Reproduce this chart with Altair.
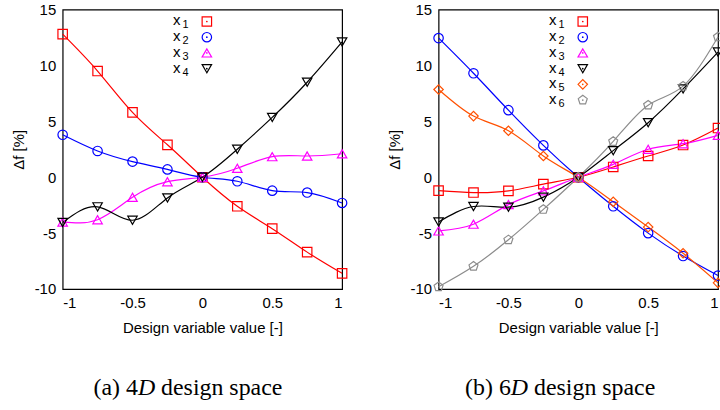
import altair as alt
import pandas as pd

X_VALUES = [-1, -0.75, -0.5, -0.25, 0, 0.25, 0.5, 0.75, 1]

# (a) 4D design space
A_NAMES = ["x1", "x2", "x3", "x4"]
A_X1 = [12.8, 9.5, 5.8, 2.9, 0.0, -2.6, -4.6, -6.7, -8.6]
A_X2 = [3.8, 2.35, 1.4, 0.7, 0.0, -0.36, -1.2, -1.37, -2.3]
A_X3 = [-4.0, -3.8, -1.8, -0.4, 0.0, 0.8, 1.84, 1.9, 2.1]
A_X4 = [-4.05, -2.65, -3.85, -1.85, 0.0, 2.5, 5.35, 8.5, 12.1]

# (b) 6D design space
B_NAMES = ["x1", "x2", "x3", "x4", "x5", "x6"]
B_X1 = [-1.2, -1.37, -1.22, -0.62, 0.0, 0.92, 1.9, 2.88, 4.4]
B_X2 = [12.45, 9.3, 6.0, 2.85, 0.0, -2.6, -5.0, -7.05, -8.8]
B_X3 = [-4.8, -4.2, -2.45, -1.22, 0.0, 1.15, 2.5, 3.0, 3.75]
B_X4 = [-4.0, -2.62, -2.68, -1.78, 0.0, 2.38, 4.88, 7.9, 11.2]
B_X5 = [7.85, 5.47, 4.16, 1.9, 0.0, -2.2, -4.46, -6.8, -9.45]
B_X6 = [-9.8, -7.97, -5.6, -2.88, 0.0, 3.2, 6.45, 8.15, 12.55]

COLORS = ["#ff0000", "#0000ff", "#ff00ff", "#000000", "#ff5000", "#8c8c8c"]
PENTAGON = "M0,-1L0.951,-0.309L0.588,0.809L-0.588,0.809L-0.951,-0.309Z"
SHAPES = ["square", "circle", "triangle-up", "triangle-down", "diamond", PENTAGON]

LEGEND_VAR = "x"
LEGEND_SUBS = ["1", "2", "3", "4", "5", "6"]

X_TICKS = [-1, -0.5, 0, 0.5, 1]
Y_TICKS = [-10, -5, 0, 5, 10, 15]
X_TITLE = "Design variable value [-]"
Y_TITLE = "Δf [%]"
CAPTION_A = ["(a) 4", "D", "design space"]
CAPTION_B = ["(b) 6", "D", "design space"]

W = 281
H = 281
MARK_SIZE = 90


def long_df(names, series):
    rows = []
    for name, vals in zip(names, series):
        for xv, yv in zip(X_VALUES, vals):
            rows.append({"series": name, "x": xv, "y": yv})
    return pd.DataFrame(rows)


def one(txt):
    return pd.DataFrame({"t": [txt]})


def caption(parts, cx):
    # cx: horizontal centre of the caption relative to the plot's left edge
    fs = 24
    w_left = 1.86 * fs
    w_d = 0.722 * fs
    w_sp = 0.25 * fs
    w_right = 5.082 * fs
    total = w_left + w_d + w_sp + w_right
    start = cx - total / 2
    ybase = 388
    layers = []
    specs = [
        (parts[0], start + w_left, "right", "normal"),
        (parts[1], start + w_left, "left", "italic"),
        (parts[2], start + w_left + w_d + w_sp, "left", "normal"),
    ]
    for txt, xpos, align, style in specs:
        layers.append(
            alt.Chart(one(txt))
            .mark_text(font="Liberation Serif", fontSize=fs, fontStyle=style,
                       align=align, baseline="alphabetic", color="black")
            .encode(text="t:N", x=alt.value(xpos), y=alt.value(ybase))
        )
    return layers


def legend(n):
    layers = []
    for i in range(n):
        ry = 12 + 15.8 * i
        layers.append(
            alt.Chart(one(LEGEND_VAR))
            .mark_text(font="Liberation Sans", fontSize=15, align="right",
                       baseline="middle", color="black")
            .encode(text="t:N", x=alt.value(118.5), y=alt.value(ry - 1))
        )
        layers.append(
            alt.Chart(one(LEGEND_SUBS[i]))
            .mark_text(font="Liberation Sans", fontSize=11, align="left",
                       baseline="middle", color="black")
            .encode(text="t:N", x=alt.value(120.5), y=alt.value(ry + 4))
        )
        layers.append(
            alt.Chart(one(LEGEND_SUBS[i]))
            .mark_point(shape=SHAPES[i], filled=False, size=MARK_SIZE,
                        strokeWidth=1.2, color=COLORS[i], opacity=1)
            .encode(x=alt.value(145), y=alt.value(ry))
        )
        layers.append(
            alt.Chart(one(LEGEND_SUBS[i]))
            .mark_point(shape="circle", filled=True, size=3,
                        color=COLORS[i], opacity=1)
            .encode(x=alt.value(145), y=alt.value(ry))
        )
    return layers


def panel(names, series, cap_parts, cap_cx):
    df = long_df(names, series)
    n = len(names)
    xenc = alt.X("x:Q", scale=alt.Scale(domain=[-1, 1], nice=False),
                 axis=alt.Axis(values=X_TICKS, title=X_TITLE,
                               labelExpr="datum.value + ''"))
    yenc = alt.Y("y:Q", scale=alt.Scale(domain=[-10, 15], nice=False),
                 axis=alt.Axis(values=Y_TICKS, title=Y_TITLE,
                               labelExpr="datum.value + ''"))
    cscale = alt.Scale(domain=names, range=COLORS[:n])
    lines = alt.Chart(df).mark_line(interpolate="natural", strokeWidth=1.2).encode(
        x=xenc, y=yenc,
        color=alt.Color("series:N", scale=cscale, legend=None),
    )
    points = alt.Chart(df).mark_point(filled=False, size=MARK_SIZE, strokeWidth=1.2,
                                      opacity=1).encode(
        x=xenc, y=yenc,
        color=alt.Color("series:N", scale=cscale, legend=None),
        shape=alt.Shape("series:N", scale=alt.Scale(domain=names, range=SHAPES[:n]),
                        legend=None),
    )
    return alt.layer(lines, points, *legend(n), *caption(cap_parts, cap_cx)).properties(
        width=W, height=H)


left = panel(A_NAMES, [A_X1, A_X2, A_X3, A_X4], CAPTION_A, 126)
right = panel(B_NAMES, [B_X1, B_X2, B_X3, B_X4, B_X5, B_X6], CAPTION_B, 123)

chart = (
    alt.hconcat(left, right, spacing=97, bounds="flush")
    .resolve_scale(color="independent", shape="independent")
    .properties(padding={"left": 10, "top": 0.5, "right": -6, "bottom": 0},
                background="white")
    .configure_view(stroke="black", strokeWidth=1.2)
    .configure_axis(grid=False, domain=False, ticks=False, tickSize=0,
                    labelFont="Liberation Sans", labelFontSize=15,
                    labelColor="black", labelPadding=7,
                    titleFont="Liberation Sans", titleFontSize=15,
                    titleFontWeight="normal", titleColor="black")
    .configure_axisX(titlePadding=10)
    .configure_axisY(titlePadding=8)
)

chart.save("out.html", embed_options={"renderer": "svg", "actions": False})
